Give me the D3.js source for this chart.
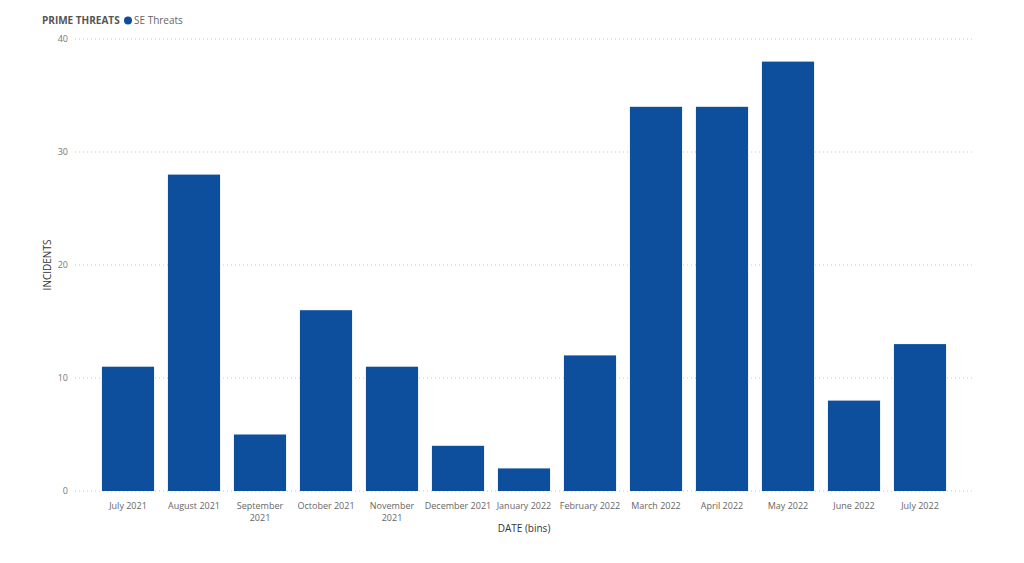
<!DOCTYPE html>
<html><head><meta charset="utf-8">
<script src="https://cdn.jsdelivr.net/npm/d3@7"></script>
<style>body{margin:0;background:#fff;} text{font-family:"Open Sans","Noto Sans",sans-serif;}</style>
</head><body><svg id="c" width="1024" height="563"></svg>
<script>
const categories = [["July 2021"],["August 2021"],["September","2021"],["October 2021"],["November","2021"],["December 2021"],["January 2022"],["February 2022"],["March 2022"],["April 2022"],["May 2022"],["June 2022"],["July 2022"]];
const values = [11,28,5,16,11,4,2,12,34,34,38,8,13];
const yTicks = [0,10,20,30,40];
const seriesName = "SE Threats";
const chartTitle = "PRIME THREATS";

const svg = d3.select("#c");
const keys = categories.map(c=>c.join(" "));
const x = d3.scaleBand().domain(keys).range([95,953]).paddingInner(0.21).paddingOuter(0.105);
const y = d3.scaleLinear().domain([0,40]).range([491,39]);
const color = "#0d4f9c";

// grid
svg.append("g").selectAll("line").data(yTicks).join("line")
  .attr("x1",75).attr("x2",975).attr("y1",d=>y(d)).attr("y2",d=>y(d))
  .attr("stroke","#c8c8c8").attr("stroke-dasharray","1,3").attr("stroke-width",1);
svg.append("g").selectAll("text").data(yTicks).join("text")
  .attr("x",68).attr("y",d=>y(d)+3).attr("text-anchor","end")
  .attr("font-size",9).attr("fill","#777").text(d=>d);

// bars
const xb = d3.scaleBand().domain(keys).range([95,953]).paddingInner(0.21).paddingOuter(0.105);
svg.append("g").selectAll("rect").data(values).join("rect")
  .attr("x",(d,i)=>x(keys[i])).attr("width",x.bandwidth())
  .attr("y",d=>y(d)).attr("height",d=>y(0)-y(d)).attr("fill",color);

// x labels
const xl = svg.append("g").selectAll("text").data(categories).join("text")
  .attr("x",(d,i)=>x(keys[i])+x.bandwidth()/2).attr("y",509)
  .attr("text-anchor","middle").attr("font-size",9).attr("fill","#666");
xl.each(function(d){
  const t=d3.select(this);
  d.forEach((line,j)=>t.append("tspan").attr("x",t.attr("x")).attr("dy",j?12:0).text(line));
});

// axis titles
svg.append("text").attr("x",524).attr("y",532).attr("text-anchor","middle")
  .attr("font-size",10).attr("fill","#333").text("DATE (bins)");
svg.append("text").attr("transform","translate(51,265) rotate(-90)").attr("text-anchor","middle")
  .attr("font-size",10).attr("fill","#333").text("INCIDENTS");

// title & legend
svg.append("text").attr("x",42).attr("y",24).attr("font-size",10).attr("font-weight","bold")
  .attr("fill","#555").text(chartTitle);
svg.append("circle").attr("cx",128).attr("cy",20.5).attr("r",4).attr("fill",color);
svg.append("text").attr("x",134).attr("y",24).attr("font-size",10).attr("fill","#666").text(seriesName);
</script></body></html>
